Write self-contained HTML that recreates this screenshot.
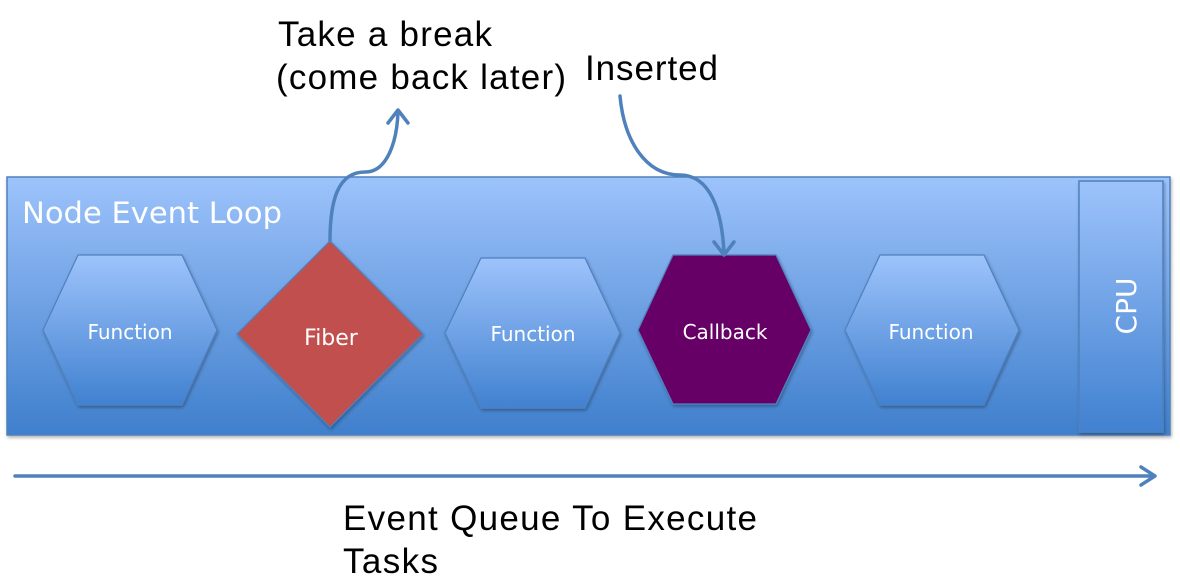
<!DOCTYPE html>
<html><head><meta charset="utf-8"><style>
body{margin:0;background:#fff;width:1180px;height:586px;overflow:hidden}
</style></head><body>
<svg width="1180" height="586" viewBox="0 0 1180 586" xmlns="http://www.w3.org/2000/svg" style="position:absolute;left:0;top:0">
<defs>
<linearGradient id="bg" x1="0" y1="0" x2="0" y2="1"><stop offset="0" stop-color="#9dc3fb"/><stop offset="1" stop-color="#3f7fcc"/></linearGradient>
<linearGradient id="hx" x1="0" y1="0" x2="0" y2="1"><stop offset="0" stop-color="#9dc3fb"/><stop offset="1" stop-color="#4181d0"/></linearGradient>
<filter id="sh" x="-5%" y="-5%" width="110%" height="115%"><feDropShadow dx="1" dy="2" stdDeviation="1.5" flood-color="#000" flood-opacity="0.3"/></filter>
</defs>
<rect x="7" y="177" width="1163" height="258" fill="url(#bg)" stroke="#4f81bd" stroke-width="1.5" filter="url(#sh)"/>
<rect x="1079" y="181" width="84" height="251" fill="url(#hx)" stroke="#4f81bd" stroke-width="1.5" filter="url(#sh)"/>
<text x="1136" y="306" fill="#fff" font-family="'DejaVu Sans','Liberation Sans',sans-serif" font-size="28" text-anchor="middle" transform="rotate(-90 1136 306)">CPU</text>
<text x="22" y="223" fill="#fff" font-family="'DejaVu Sans','Liberation Sans',sans-serif" font-size="29" textLength="260" lengthAdjust="spacingAndGlyphs">Node Event Loop</text>
<g filter="url(#sh)" stroke="#4f81bd" stroke-width="1.2">
<polygon points="78,255 182,255 217,330 182,405 78,405 43,330" fill="url(#hx)"/>
<polygon points="330,241 423,334 330,427 237,334" fill="#c0504d"/>
<polygon points="481,258 585,258 620,333 585,408 481,408 445,333" fill="url(#hx)"/>
<polygon points="673,255 776,255 811,330 776,404 673,404 638,330" fill="#660066"/>
<polygon points="880,255 984,255 1019,330 984,405 880,405 845,330" fill="url(#hx)"/>
</g>
<g fill="#fff" font-family="'DejaVu Sans','Liberation Sans',sans-serif" text-anchor="middle">
<text x="130" y="339" font-size="20">Function</text>
<text x="331" y="345" font-size="22">Fiber</text>
<text x="533" y="341" font-size="20">Function</text>
<text x="725" y="339" font-size="20">Callback</text>
<text x="931" y="339" font-size="20">Function</text>
</g>
<g fill="none" stroke="#4f81bd" stroke-width="3.5" stroke-linecap="round" stroke-linejoin="round">
<path d="M330,241 C330,200 338,172 365,172 C388,172 397,140 398,112"/>
<path d="M388,123 L398,110 L408,123"/>
<path d="M620,96 C624,140 645,175 680,175 C710,175 722,210 724,253"/>
<path d="M714,242 L724,255 L734,242"/>
<path d="M15,476 L1153,476"/>
<path d="M1141,467 L1155,476 L1141,485"/>
</g>
<g fill="#000" font-family="'Liberation Sans',sans-serif" font-size="35" lengthAdjust="spacingAndGlyphs">
<text x="278" y="46" textLength="214">Take a break</text>
<text x="276" y="89" textLength="290">(come back later)</text>
<text x="585" y="80" textLength="133">Inserted</text>
<text x="343" y="530" textLength="414">Event Queue To Execute</text>
<text x="343" y="573" textLength="95">Tasks</text>
</g>
</svg>
</body></html>
